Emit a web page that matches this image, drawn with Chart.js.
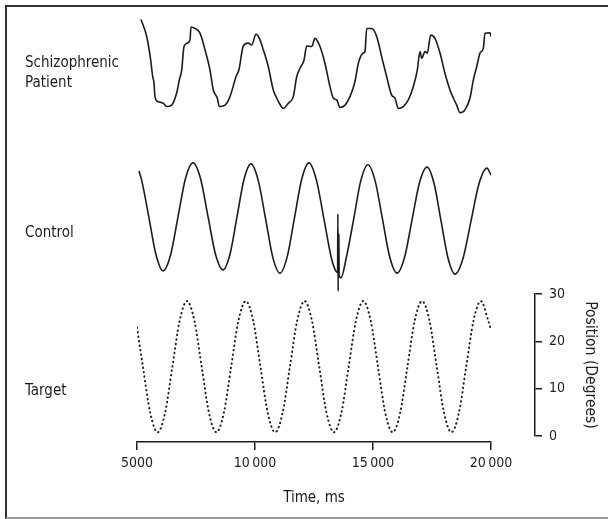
<!DOCTYPE html>
<html>
<head>
<meta charset="utf-8">
<script src="https://cdn.jsdelivr.net/npm/chart.js@4/dist/chart.umd.min.js"></script>
<style>
    html, body { margin: 0; padding: 0; background: #fff; }
    #wrap { position: relative; width: 608px; height: 519px; overflow: hidden; }
    #frame { position: absolute; left: 5px; top: 5px; width: 640px; height: 510px;
        border-top: 2px solid #333; border-left: 2px solid #333; border-bottom: 2px solid #999; }
    canvas { position: absolute; left: 0; top: 0; }
    .lbl { position: absolute; left: 25px; font: 15px 'Liberation Sans Narrow', 'Arial Narrow', 'DejaVu Sans Condensed', sans-serif;
        line-height: 20px; color: #1c1c1c; white-space: nowrap; }
</style>
</head>
<body>
<div id="wrap">
    <div id="frame"></div>
    <canvas id="chart" width="608" height="519"></canvas>
    <div class="lbl" style="top:52px">Schizophrenic<br>Patient</div>
    <div class="lbl" style="top:222px">Control</div>
    <div class="lbl" style="top:380px">Target</div>
</div>
<script>
'use strict';

// time (ms), position (degrees)
const patientTrace = [
    [5169, 28.0], [5411, 24.4], [5581, 19.4], [5665, 15.9], [5720, 14.6], [5763, 11.6], [5903, 10.6],
    [6114, 10.3], [6258, 9.6], [6470, 9.9], [6682, 12.5], [6792, 15.2], [6894, 17.3], [6992, 22.3],
    [7131, 23.0], [7246, 23.7], [7288, 26.4], [7458, 26.1], [7669, 25.1], [7881, 21.6], [8093, 17.3],
    [8233, 13.1], [8403, 11.4], [8487, 9.6], [8729, 9.9], [8941, 11.7], [9195, 15.9], [9335, 17.7],
    [9436, 20.9], [9504, 22.4], [9716, 23.0], [9860, 22.6], [10042, 24.9], [10212, 23.7], [10352, 21.6],
    [10564, 18.0], [10775, 13.1], [10919, 11.4], [11030, 10.3], [11199, 9.2], [11411, 10.3], [11623, 11.7],
    [11767, 15.9], [11907, 17.7], [12076, 19.4], [12191, 22.4], [12403, 22.3], [12542, 24.0], [12754, 22.3],
    [12966, 18.7], [13178, 13.8], [13318, 11.4], [13462, 11.0], [13602, 9.4], [13814, 9.9], [14025, 11.7],
    [14237, 14.9], [14377, 18.7], [14589, 20.9], [14661, 21.2], [14733, 26.1], [14945, 26.1], [15157, 24.4],
    [15369, 20.1], [15580, 15.9], [15792, 12.0], [15932, 11.4], [16072, 9.2], [16284, 9.6], [16496, 11.0],
    [16708, 13.8], [16877, 17.3], [16992, 21.2], [17063, 19.8], [17203, 21.2], [17301, 20.9], [17445, 24.7],
    [17627, 24.0], [17839, 20.9], [18051, 16.6], [18263, 13.1], [18403, 11.4], [18547, 9.9], [18686, 8.3],
    [18898, 8.9], [19110, 11.4], [19250, 15.2], [19394, 18.0], [19534, 20.9], [19674, 21.9], [19746, 25.1],
    [19958, 25.2], [20000, 24.4]
];

const controlTrace = [
    [5085, 26.0], [5200, 24.0], [5500, 16.3], [5800, 8.4], [6102, 4.9], [6420, 8.2], [6738, 16.3],
    [7055, 24.4], [7373, 27.7], [7691, 24.4], [8008, 16.4], [8326, 8.4], [8644, 5.1], [8940, 8.4],
    [9237, 16.3], [9533, 24.2], [9830, 27.5], [10137, 24.0], [10444, 16.0], [10752, 7.8], [11059, 4.4],
    [11366, 7.9], [11673, 16.1], [11981, 24.3], [12288, 27.7], [12606, 24.0], [12923, 15.8], [13241, 7.5],
    [13420, 4.9], [13500, 4.6], [13512, 16.9], [13522, 0.6], [13532, 12.9], [13542, 3.5], [13552, 12.4],
    [13565, 3.8], [13640, 3.4], [13866, 7.6], [14173, 15.6], [14481, 23.9], [14788, 27.3], [15095, 23.8],
    [15402, 15.8], [15710, 7.8], [16017, 4.4], [16335, 7.7], [16652, 15.6], [16970, 23.5], [17288, 26.8],
    [17585, 23.4], [17881, 15.5], [18178, 7.6], [18474, 4.2], [18813, 7.5], [19152, 15.4], [19491, 23.3],
    [19830, 26.6], [20000, 25.1]
];

const targetTrace = [
    [5000, 22.9], [5253, 14.6], [5564, 4.8], [5875, 0.8], [6186, 4.8], [6498, 14.6], [6809, 24.4],
    [7120, 28.5], [7431, 24.4], [7743, 14.6], [8054, 4.8], [8365, 0.8], [8676, 4.8], [8988, 14.6],
    [9299, 24.4], [9610, 28.5], [9921, 24.4], [10233, 14.6], [10544, 4.8], [10855, 0.8], [11166, 4.8],
    [11478, 14.6], [11789, 24.4], [12100, 28.5], [12411, 24.4], [12723, 14.6], [13034, 4.8], [13345, 0.8],
    [13656, 4.8], [13968, 14.6], [14279, 24.4], [14590, 28.5], [14901, 24.4], [15213, 14.6], [15524, 4.8],
    [15835, 0.8], [16146, 4.8], [16458, 14.6], [16769, 24.4], [17080, 28.5], [17391, 24.4], [17703, 14.6],
    [18014, 4.8], [18325, 0.8], [18636, 4.8], [18948, 14.6], [19259, 24.4], [19570, 28.5], [19881, 24.4],
    [20000, 22.4]
];

const timeTicks = [5000, 10000, 15000, 20000];
const positionTicks = [0, 10, 20, 30];

const ink = '#1c1c1c';
const fontFamily = "'Liberation Sans Narrow', 'Arial Narrow', 'DejaVu Sans Condensed', sans-serif";

function toPoints(trace) {
    return trace.map(([x, y]) => ({x, y}));
}

function fmtTime(v) {
    const s = String(v);
    return s.length > 4 ? s.slice(0, -3) + '\u2009' + s.slice(-3) : s;
}

// blank axis used only to take up room in the right-hand stack
function blankAxis(weight, max) {
    return {
        type: 'linear', position: 'right', stack: 'traces', stackWeight: weight,
        min: 0, max: max,
        ticks: {display: false}, grid: {display: false, drawTicks: false}, border: {display: false},
        afterFit: s => { s.width = 0; }
    };
}

new Chart(document.getElementById('chart'), {
    type: 'line',
    data: {
        datasets: [{
            label: 'Schizophrenic Patient', data: toPoints(patientTrace), yAxisID: 'yPatient',
            borderColor: ink, borderWidth: 1.6, pointRadius: 0, cubicInterpolationMode: 'monotone'
        }, {
            label: 'Control', data: toPoints(controlTrace), yAxisID: 'yControl',
            borderColor: ink, borderWidth: 1.6, pointRadius: 0, cubicInterpolationMode: 'monotone'
        }, {
            label: 'Target', data: toPoints(targetTrace), yAxisID: 'yTarget',
            borderColor: ink, borderWidth: 2, borderDash: [0.4, 4.1], borderCapStyle: 'round',
            pointRadius: 0, cubicInterpolationMode: 'monotone'
        }]
    },
    options: {
        responsive: false, animation: false, devicePixelRatio: 1,
        layout: {padding: {left: 137, top: 18, right: 0, bottom: 0}},
        plugins: {legend: {display: false}, tooltip: {enabled: false}},
        scales: {
            x: {
                type: 'linear', position: 'bottom', min: 5000, max: 20000,
                afterBuildTicks: s => { s.ticks = timeTicks.map(v => ({value: v})); },
                ticks: {color: ink, font: {family: fontFamily, size: 14}, padding: 5, maxRotation: 0,
                    callback: v => fmtTime(v)},
                grid: {drawOnChartArea: false, tickLength: 8, color: ink, lineWidth: 1.5},
                border: {color: ink, width: 1.5},
                title: {display: true, text: 'Time, ms', color: ink, font: {family: fontFamily, size: 15},
                    padding: {top: 0, bottom: 12}},
                afterFit: s => { s.height = 77; }
            },
            gap: {
                type: 'linear', position: 'right',
                ticks: {display: false}, grid: {display: false, drawTicks: false}, border: {display: false},
                afterFit: s => { s.width = 44; }
            },
            yPatient: blankAxis(134, 28.31),
            yControl: blankAxis(142, 30),
            yTarget: {
                type: 'linear', position: 'right', stack: 'traces', stackWeight: 142,
                min: 0, max: 30,
                afterBuildTicks: s => { s.ticks = positionTicks.map(v => ({value: v})); },
                ticks: {color: ink, font: {family: fontFamily, size: 14}, padding: 7},
                grid: {drawOnChartArea: false, tickLength: 7, color: ink, lineWidth: 1.5},
                border: {color: ink, width: 1.5},
                title: {display: true, text: 'Position (Degrees)', color: ink,
                    font: {family: fontFamily, size: 15.5}, padding: {top: 9, bottom: 0}},
                afterFit: s => { s.width = 73; }
            },
            yPad: blankAxis(6, 1)
        }
    }
});
</script>
</body>
</html>
